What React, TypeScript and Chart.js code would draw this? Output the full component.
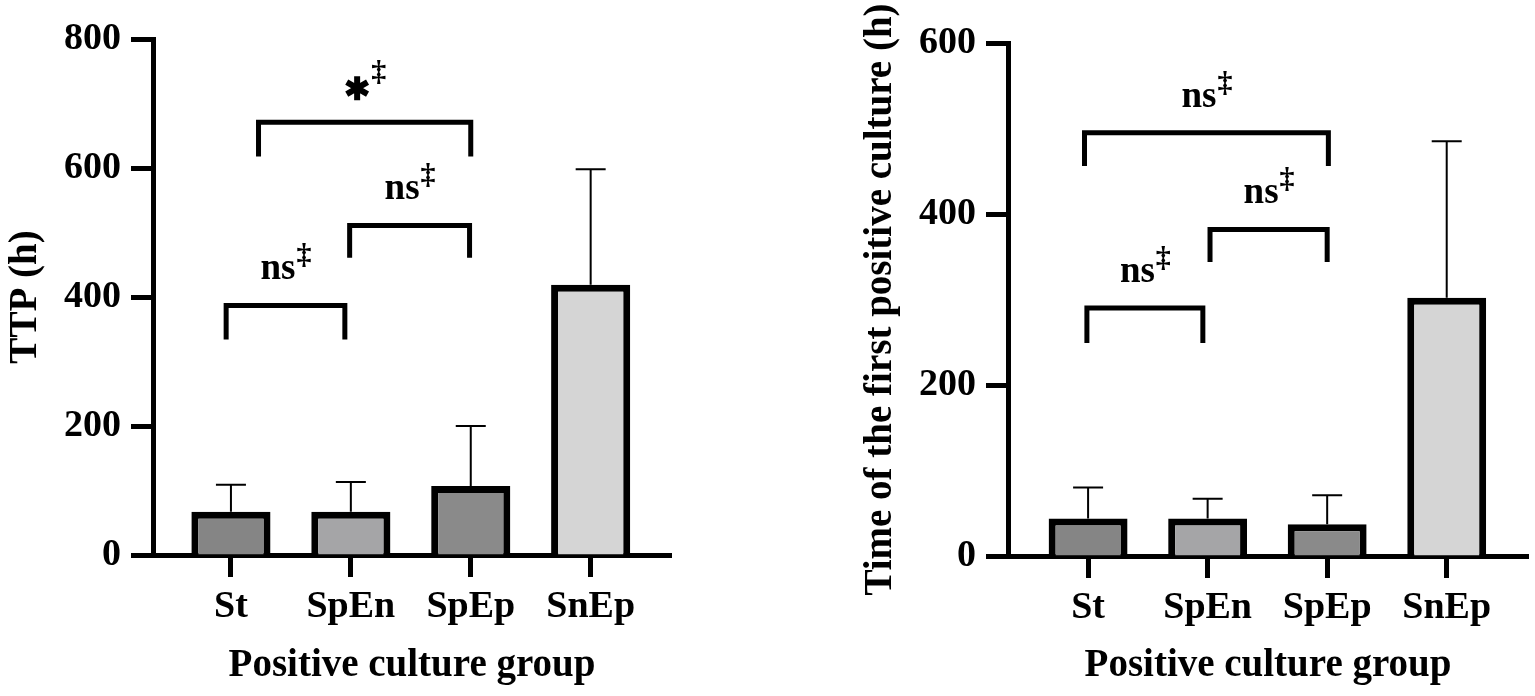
import { useEffect, useRef } from "react";
import { Chart, registerables } from "chart.js";

Chart.register(...registerables);

const groups = ["St", "SpEn", "SpEp", "SnEp"];
const barColors = ["#858585", "#a5a5a7", "#8a8a8a", "#d5d5d5"];

// left panel: TTP, mean and mean + SD
const ttpMean = [67, 67, 107, 419];
const ttpUpper = [109, 113, 200, 598];

// right panel: time of the first positive culture, mean and mean + SD
const firstMean = [44, 44, 37, 302];
const firstUpper = [80, 67, 71, 485];

type Bracket = { from: number; to: number; y: number; leg: number; mark: string };

const ttpBrackets: Bracket[] = [
  { from: -0.04, to: 0.95, y: 387, leg: 334, mark: "ns" },
  { from: 0.99, to: 1.99, y: 511, leg: 461, mark: "ns" },
  { from: 0.23, to: 2.0, y: 671, leg: 618, mark: "*" },
];

const firstBrackets: Bracket[] = [
  { from: -0.01, to: 0.96, y: 290, leg: 249, mark: "ns" },
  { from: 1.02, to: 2.0, y: 382, leg: 344, mark: "ns" },
  { from: -0.03, to: 2.01, y: 495, leg: 456, mark: "ns" },
];

const SERIF = "'Liberation Serif', 'Times New Roman', serif";

const makeMarks = (mean: number[], upper: number[], brackets: Bracket[]) => ({
  id: "marks",
  afterDatasetsDraw(chart: any) {
    const { ctx } = chart;
    const x = chart.scales.x;
    const y = chart.scales.y;
    ctx.save();
    ctx.strokeStyle = "#000";
    ctx.fillStyle = "#000";

    // error bars, upper side only
    ctx.lineWidth = 2;
    upper.forEach((v, i) => {
      const px = x.getPixelForValue(i);
      const top = y.getPixelForValue(v);
      const base = y.getPixelForValue(mean[i]);
      ctx.beginPath();
      ctx.moveTo(px, base);
      ctx.lineTo(px, top);
      ctx.moveTo(px - 15, top);
      ctx.lineTo(px + 15, top);
      ctx.stroke();
    });

    // significance brackets
    brackets.forEach((b) => {
      const x1 = x.getPixelForValue(b.from);
      const x2 = x.getPixelForValue(b.to);
      const yy = y.getPixelForValue(b.y);
      const yl = y.getPixelForValue(b.leg);
      ctx.lineWidth = 5;
      ctx.beginPath();
      ctx.moveTo(x1, yl);
      ctx.lineTo(x1, yy);
      ctx.lineTo(x2, yy);
      ctx.lineTo(x2, yl);
      ctx.stroke();

      const cx = (x1 + x2) / 2;
      const baseY = yy - 26;
      ctx.font = `bold 30px ${SERIF}`;
      const wd = ctx.measureText("\u2021").width;
      if (b.mark === "*") {
        const sw = 26;
        const start = cx - (sw + wd) / 2;
        const sx = start + sw / 2;
        const sy = yy - 34;
        ctx.lineWidth = 6;
        ctx.beginPath();
        for (let k = 0; k < 3; k++) {
          const a = (Math.PI / 3) * k + Math.PI / 2;
          ctx.moveTo(sx + Math.cos(a) * 12, sy + Math.sin(a) * 12);
          ctx.lineTo(sx - Math.cos(a) * 12, sy - Math.sin(a) * 12);
        }
        ctx.stroke();
        ctx.textBaseline = "alphabetic";
        ctx.textAlign = "left";
        ctx.fillText("\u2021", start + sw + 1, yy - 41);
      } else {
        ctx.font = `bold 37px ${SERIF}`;
        const wn = ctx.measureText(b.mark).width;
        const start = cx - (wn + wd) / 2;
        ctx.textBaseline = "alphabetic";
        ctx.textAlign = "left";
        ctx.fillText(b.mark, start, baseY);
        ctx.font = `bold 30px ${SERIF}`;
        ctx.fillText("\u2021", start + wn + 1, baseY - 15);
      }
    });
    ctx.restore();
  },
});

type PanelProps = {
  left: number;
  width: number;
  mean: number[];
  upper: number[];
  brackets: Bracket[];
  yMax: number;
  yTitle: string;
  padTop: number;
  padRight: number;
  xHeight: number;
  xMin: number;
  xMax: number;
};

const Panel = (p: PanelProps) => {
  const canvasRef = useRef<HTMLCanvasElement | null>(null);
  const chartRef = useRef<Chart | null>(null);

  useEffect(() => {
    if (chartRef.current) chartRef.current.destroy();
    const ctx = canvasRef.current?.getContext("2d");
    if (!ctx) return;

    const tickFont = { family: SERIF, size: 38, weight: "bold" as const };
    const titleFont = { family: SERIF, size: 39, weight: "bold" as const };

    chartRef.current = new Chart(ctx, {
      type: "bar",
      data: {
        datasets: [
          {
            data: p.mean.map((v, i) => ({ x: i, y: v })),
            backgroundColor: barColors,
            borderColor: "#000",
            borderWidth: 7,
            borderSkipped: "bottom",
            barPercentage: 0.66,
            categoryPercentage: 1,
          },
        ],
      },
      options: {
        responsive: false,
        animation: false,
        layout: { padding: { top: p.padTop, right: p.padRight, bottom: 0, left: 0 } },
        plugins: { legend: { display: false }, tooltip: { enabled: false } },
        scales: {
          x: {
            type: "linear",
            min: p.xMin,
            max: p.xMax,
            offset: false,
            z: 1,
            afterBuildTicks: (s: any) => {
              s.ticks = groups.map((_, i) => ({ value: i }));
            },
            afterFit: (s: any) => {
              s.height = p.xHeight;
            },
            ticks: {
              callback: (v: any) => groups[v],
              font: tickFont,
              color: "#000",
              padding: 7,
              autoSkip: false,
              maxRotation: 0,
            },
            grid: {
              display: true,
              offset: false,
              drawOnChartArea: false,
              drawTicks: true,
              tickLength: 22,
              tickWidth: 5,
              tickColor: "#000",
            },
            border: { display: true, width: 5, color: "#000" },
            title: {
              display: true,
              text: "Positive culture group",
              font: titleFont,
              color: "#000",
              padding: { top: 0, bottom: 7 },
            },
          },
          y: {
            min: 0,
            max: p.yMax,
            afterFit: (s: any) => {
              s.width = 153;
            },
            ticks: { stepSize: 200, font: tickFont, color: "#000", padding: 10 },
            grid: {
              display: true,
              drawOnChartArea: false,
              drawTicks: true,
              tickLength: 22,
              tickWidth: 5,
              tickColor: "#000",
            },
            border: { display: true, width: 5, color: "#000" },
            title: {
              display: true,
              text: p.yTitle,
              font: titleFont,
              color: "#000",
              padding: { top: 3, bottom: 0 },
            },
          },
        },
      },
      plugins: [makeMarks(p.mean, p.upper, p.brackets)],
    } as any);

    return () => {
      if (chartRef.current) {
        chartRef.current.destroy();
        chartRef.current = null;
      }
    };
  }, []);

  return (
    <canvas
      ref={canvasRef}
      width={p.width}
      height={696}
      style={{ position: "absolute", left: p.left, top: 0, width: p.width, height: 696 }}
    ></canvas>
  );
};

const App = () => {
  return (
    <div style={{ position: "absolute", left: 0, top: 0, width: 1535, height: 696, background: "#fff" }}>
      <Panel
        left={0}
        width={700}
        mean={ttpMean}
        upper={ttpUpper}
        brackets={ttpBrackets}
        yMax={800}
        yTitle="TTP (h)"
        padTop={39}
        padRight={29}
        xHeight={141}
        xMin={-0.65}
        xMax={3.67}
      />
      <Panel
        left={855}
        width={680}
        mean={firstMean}
        upper={firstUpper}
        brackets={firstBrackets}
        yMax={600}
        yTitle="Time of the first positive culture (h)"
        padTop={43}
        padRight={7}
        xHeight={140}
        xMin={-0.67}
        xMax={3.68}
      />
    </div>
  );
};

export default App;
